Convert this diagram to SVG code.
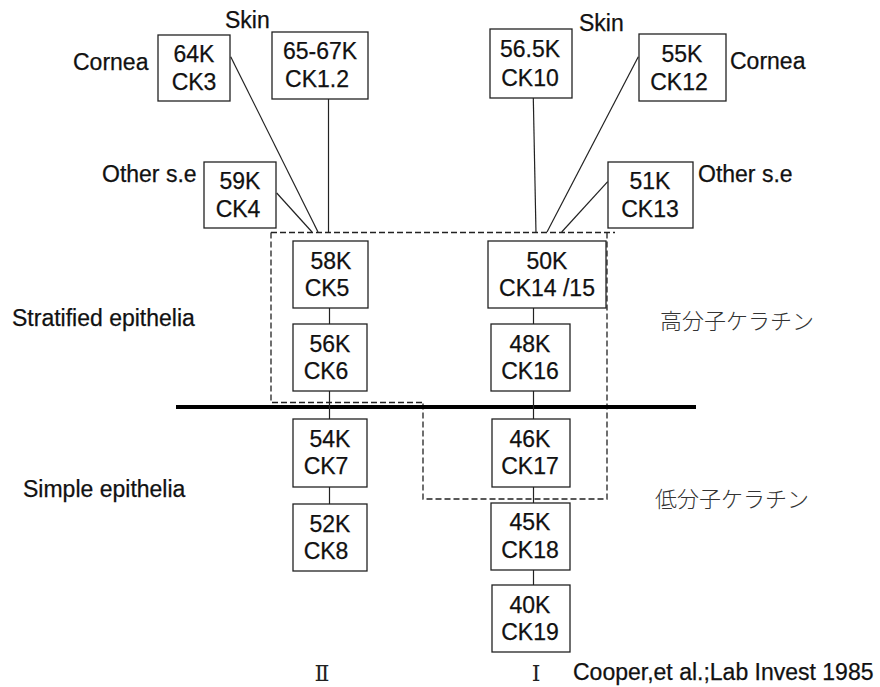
<svg xmlns="http://www.w3.org/2000/svg" width="880" height="687" viewBox="0 0 880 687">
<style>
  .box { fill: #fff; stroke: #222; stroke-width: 1.3; }
  .t { font-family: "Liberation Sans", Arial, sans-serif; font-size: 23px; fill: #111; stroke: #111; stroke-width: 0.25; }
  .c { text-anchor: middle; }
  .jp { font-family: "Noto Sans CJK JP", "Noto Sans CJK SC", sans-serif; font-size: 22px; fill: #333; font-weight: 300; }
  .rn { font-family: "DejaVu Serif", "Liberation Serif", "Noto Sans CJK JP", serif; font-size: 22px; fill: #222; text-anchor: middle; }
  .ln { stroke: #222; stroke-width: 1.2; fill: none; }
  .dash { stroke: #222; stroke-width: 1.3; fill: none; stroke-dasharray: 6 3; }
</style>
<rect width="880" height="687" fill="#fff"/>

<g id="regions">
  <path class="dash" d="M271 232.5 H615 M271 232.5 V402.5 H423 M607 232.5 V499 H423 V402.5"/>
  <line x1="176" y1="407" x2="696" y2="407" stroke="#000" stroke-width="4"/>
</g>

<g id="connectors">
  <line class="ln" x1="230.7" y1="56.7" x2="318" y2="232"/>
  <line class="ln" x1="276.7" y1="193" x2="312" y2="232"/>
  <line class="ln" x1="328.5" y1="99" x2="328.5" y2="233"/>
  <line class="ln" x1="329.5" y1="308" x2="329.5" y2="324"/>
  <line class="ln" x1="329.5" y1="391" x2="329.5" y2="419"/>
  <line class="ln" x1="329.5" y1="487" x2="329.5" y2="504"/>
  <line class="ln" x1="533.3" y1="98" x2="536" y2="233"/>
  <line class="ln" x1="638.3" y1="56.7" x2="547" y2="232"/>
  <line class="ln" x1="607.7" y1="181.7" x2="561.7" y2="232"/>
  <line class="ln" x1="533.5" y1="308" x2="533.5" y2="324"/>
  <line class="ln" x1="533.5" y1="391" x2="533.5" y2="419"/>
  <line class="ln" x1="533.5" y1="487" x2="533.5" y2="503"/>
  <line class="ln" x1="533.5" y1="570" x2="533.5" y2="585"/>
</g>

<g id="ck3">
  <rect class="box" x="158" y="35" width="72" height="66"/>
  <text class="t c" x="194" y="62">64K</text>
  <text class="t c" x="194" y="90">CK3</text>
</g>
<g id="ck1-2">
  <rect class="box" x="272" y="32" width="96" height="67"/>
  <text class="t c" x="320" y="59">65-67K</text>
  <text class="t c" x="317" y="87">CK1.2</text>
</g>
<g id="ck4">
  <rect class="box" x="204" y="162" width="72" height="66"/>
  <text class="t c" x="240" y="189">59K</text>
  <text class="t c" x="238" y="217">CK4</text>
</g>
<g id="ck5">
  <rect class="box" x="293" y="241" width="75" height="67"/>
  <text class="t c" x="331" y="269">58K</text>
  <text class="t c" x="327" y="296">CK5</text>
</g>
<g id="ck6">
  <rect class="box" x="293" y="324" width="74" height="67"/>
  <text class="t c" x="330" y="352">56K</text>
  <text class="t c" x="326" y="379">CK6</text>
</g>
<g id="ck7">
  <rect class="box" x="293" y="419" width="74" height="68"/>
  <text class="t c" x="330" y="447">54K</text>
  <text class="t c" x="326" y="474">CK7</text>
</g>
<g id="ck8">
  <rect class="box" x="293" y="504" width="74" height="67"/>
  <text class="t c" x="330" y="532">52K</text>
  <text class="t c" x="326" y="559">CK8</text>
</g>
<g id="ck10">
  <rect class="box" x="490" y="29" width="82" height="69"/>
  <text class="t c" x="530" y="57">56.5K</text>
  <text class="t c" x="530" y="86">CK10</text>
</g>
<g id="ck12">
  <rect class="box" x="639" y="34" width="87" height="67"/>
  <text class="t c" x="682" y="62">55K</text>
  <text class="t c" x="679" y="90">CK12</text>
</g>
<g id="ck13">
  <rect class="box" x="608" y="162" width="85" height="66"/>
  <text class="t c" x="650" y="189">51K</text>
  <text class="t c" x="650" y="217">CK13</text>
</g>
<g id="ck14-15">
  <rect class="box" x="488" y="241" width="118" height="67"/>
  <text class="t c" x="547" y="269">50K</text>
  <text class="t c" x="547" y="296">CK14 /15</text>
</g>
<g id="ck16">
  <rect class="box" x="491" y="324" width="79" height="67"/>
  <text class="t c" x="530" y="352">48K</text>
  <text class="t c" x="530" y="379">CK16</text>
</g>
<g id="ck17">
  <rect class="box" x="492" y="419" width="78" height="68"/>
  <text class="t c" x="530" y="447">46K</text>
  <text class="t c" x="530" y="474">CK17</text>
</g>
<g id="ck18">
  <rect class="box" x="491" y="503" width="79" height="67"/>
  <text class="t c" x="530" y="530">45K</text>
  <text class="t c" x="530" y="558">CK18</text>
</g>
<g id="ck19">
  <rect class="box" x="492" y="585" width="78" height="67"/>
  <text class="t c" x="530" y="613">40K</text>
  <text class="t c" x="530" y="640">CK19</text>
</g>

<g id="labels">
  <text class="t" x="225" y="28">Skin</text>
  <text class="t" x="73" y="70">Cornea</text>
  <text class="t" x="102" y="182">Other s.e</text>
  <text class="t" x="579" y="31">Skin</text>
  <text class="t" x="730" y="69">Cornea</text>
  <text class="t" x="698" y="182">Other s.e</text>
  <text class="t" x="12" y="326">Stratified epithelia</text>
  <text class="t" x="23" y="497">Simple epithelia</text>
  <text class="jp" x="660" y="329">高分子ケラチン</text>
  <text class="jp" x="655" y="507">低分子ケラチン</text>
  <text class="rn" x="322" y="681">Ⅱ</text>
  <text class="rn" x="536" y="681">Ⅰ</text>
  <text class="t" x="573" y="680">Cooper,et al.;Lab Invest 1985</text>
</g>
</svg>
